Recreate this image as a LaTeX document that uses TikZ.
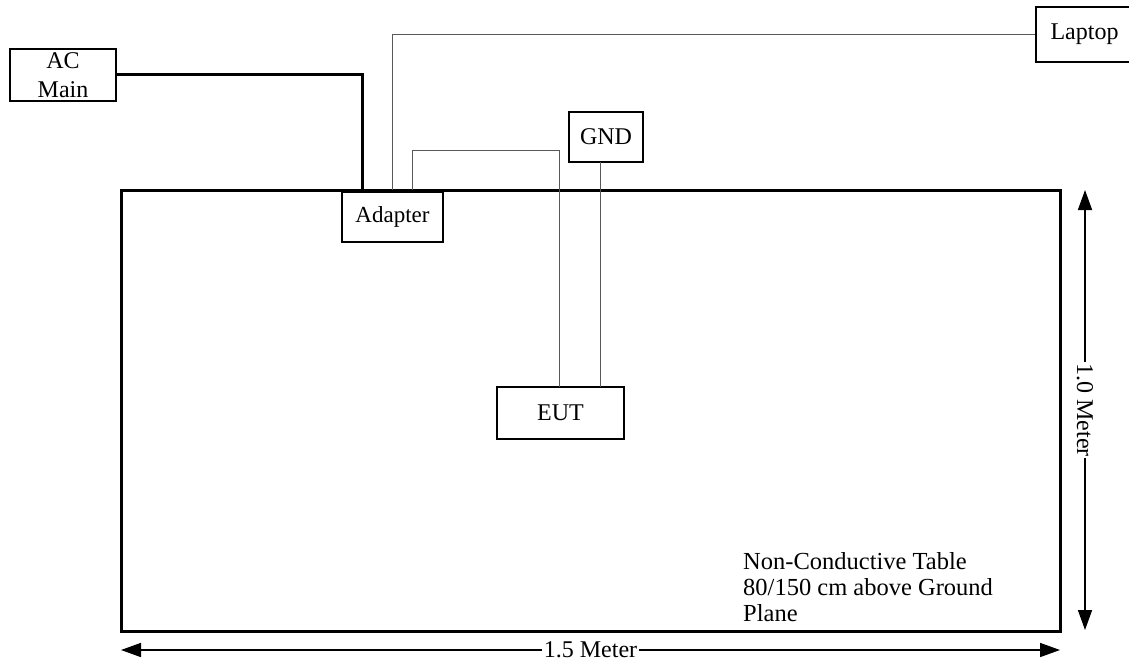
\documentclass[tikz,border=0pt]{standalone}
\usepackage{fontspec}
\setmainfont{Liberation Serif}
\usetikzlibrary{arrows.meta}
\begin{document}
\begin{tikzpicture}[x=1pt,y=-1pt,
  font=\fontsize{24pt}{25pt}\selectfont,
  box/.style={draw=black,line width=1.4pt,rectangle,inner sep=0pt,align=center},
  wire/.style={draw=black!65,line width=1pt},
  power/.style={draw=black,line width=3pt},
  dim/.style={draw=black,line width=1.6pt,{Triangle[length=20pt,width=14pt]}-{Triangle[length=20pt,width=14pt]}},
  dimlabel/.style={fill=white,inner sep=1.5pt}]
\useasboundingbox (0,0) rectangle (1129,666);
% table
\node[draw=black,line width=3pt,rectangle,minimum width=939pt,minimum height=441pt,inner sep=0pt] (table) at (590.5,410.5) {};
% boxes
\node[box,minimum width=106pt,minimum height=52pt,font=\fontsize{24pt}{29pt}\selectfont] (ac) at (63,75) {AC\\Main};
\node[box,minimum width=97pt,minimum height=55pt] (laptop) at (1084.5,34.5) {Laptop};
\node[box,minimum width=101pt,minimum height=50pt,font=\fontsize{23pt}{25pt}\selectfont] (adapter) at (392.5,217) {Adapter};
\node[box,minimum width=74pt,minimum height=50pt] (gnd) at (606,137) {GND};
\node[box,minimum width=127pt,minimum height=52pt] (eut) at (560.5,413) {EUT};
% note
\node[anchor=north west,align=left,inner sep=0pt,font=\fontsize{24.5pt}{26pt}\selectfont] (note) at (743,552) {Non-Conductive Table\\80/150 cm above Ground\\Plane};
% connection points
\coordinate (acdrop) at (362,190);
\coordinate (lapdrop) at (392,190);
\coordinate (eutup) at (412,190);
\coordinate (eutbend) at (559,150);
\coordinate (eutin) at (559,387);
\coordinate (gndout) at (600,162);
\coordinate (gndin) at (600,387);
% wires
\draw[power] (ac.east) -| (acdrop);
\draw[wire] (lapdrop) |- (laptop.west);
\draw[wire] (eutup) |- (eutbend) -- (eutin);
\draw[wire] (gndout) -- (gndin);
% dimensions
\coordinate (h1) at (121,650);
\coordinate (h2) at (1060,650);
\coordinate (v1) at (1085,190);
\coordinate (v2) at (1085,630);
\draw[dim] (h1) -- node[dimlabel] (hlabel) {1.5 Meter} (h2);
\draw[dim] (v1) -- node[dimlabel,rotate=-90] (vlabel) {1.0 Meter} (v2);
\end{tikzpicture}
\end{document}
